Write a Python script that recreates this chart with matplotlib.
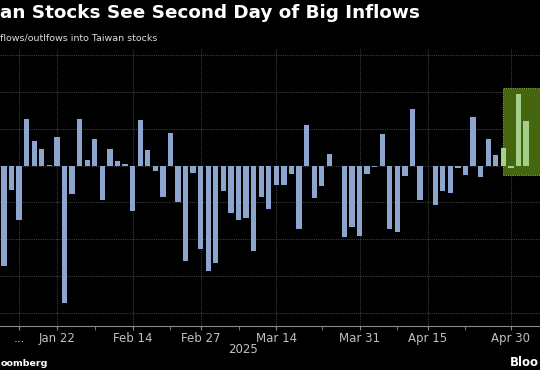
import numpy as np
import matplotlib
matplotlib.use("Agg")
import matplotlib.pyplot as plt
from matplotlib.patches import Rectangle

# daily net flows, one bar per trading day (Jan 13 .. early May 2025)
flows = [
    -2.73, -0.65, -1.48, 1.27, 0.67, 0.46, 0.03, 0.79, -3.73, -0.76,
    1.28, 0.15, 0.72, -0.93, 0.46, 0.14, 0.06, -1.24, 1.25, 0.42,
    -0.14, -0.84, 0.90, -0.99, -2.58, -0.19, -2.27, -2.86, -2.64, -0.70,
    -1.30, -1.47, -1.43, -2.32, -0.86, -1.17, -0.52, -0.52, -0.22, -1.72,
    1.11, -0.87, -0.56, 0.33, -0.02, -1.94, -1.68, -1.90, -0.23, -0.03,
    0.85, -1.72, -1.79, -0.28, 1.55, -0.94, -0.02, -1.06, -0.68, -0.75,
    -0.07, -0.26, 1.33, -0.31, 0.73, 0.30, 0.48, -0.06, 1.95, 1.23,
]
highlight_from = 66  # last days shown in the green box

tick_pos = [2, 7, 17, 26, 36, 47, 56, 67]
tick_labels = ["...", "Jan 22", "Feb 14", "Feb 27", "Mar 14", "Mar 31", "Apr 15", "Apr 30"]
minor_pos = [12, 22, 31, 42, 52, 61]

# the reference is a crop, so only the visible part of these texts is shown
title = "an Stocks See Second Day of Big Inflows"
subtitle = "flows/outlfows into Taiwan stocks"
source = "oomberg"
logo = "Bloo"

BG = "black"
BAR = "#8ca5cc"
BAR_HI = "#a3d08a"
GRID = "#3c3c3c"
TXT = "#c0c0c0"

x = np.arange(len(flows))
colors = [BAR_HI if i >= highlight_from else BAR for i in x]

fig = plt.figure(figsize=(5.4, 3.7), dpi=100, facecolor=BG)
ax = fig.add_axes([0, 0.119, 1, 0.751], facecolor=BG)

ax.add_patch(Rectangle((highlight_from - 0.05, -0.245), 6, 2.365,
                       facecolor="#45650f", edgecolor="#7fae2e",
                       linestyle=(0, (1, 1)), linewidth=0.8, zorder=1))
ax.bar(x, flows, width=0.7, color=colors, zorder=2)

ax.set_xlim(-0.53, 70.85)
ax.set_ylim(-4.36, 3.2)

ax.set_yticks(range(-4, 4))
ax.set_xticks(tick_pos)
ax.set_xticklabels(tick_labels)
ax.set_xticks(minor_pos, minor=True)
ax.grid(True, which="major", color=GRID, linestyle=(0, (1, 1)), linewidth=0.8, zorder=0)
ax.set_axisbelow(True)

for s in ["top", "left", "right"]:
    ax.spines[s].set_visible(False)
ax.spines["bottom"].set_color("#8a8a8a")
ax.tick_params(axis="y", left=False, labelleft=False)
ax.tick_params(axis="x", which="both", colors="#8a8a8a", labelcolor=TXT,
               labelsize=8.5, length=3, pad=1.5)

fig.text(0.5 / 540, 1 - 13 / 370, title, ha="left", va="center",
         fontsize=13.2, weight="bold", color="white")
fig.text(0.5 / 540, 1 - 38 / 370, subtitle, ha="left", va="center",
         fontsize=6.8, color="#dddddd")
fig.text(243 / 540, 1 - 349.5 / 370, "2025", ha="center", va="center",
         fontsize=8.5, color=TXT)
fig.text(0.5 / 540, 1 - 364 / 370, source, ha="left", va="center",
         fontsize=6.8, weight="bold", color="white")
fig.text(539 / 540, 1 - 362 / 370, logo, ha="right", va="center",
         fontsize=8.4, weight="bold", color="white")

fig.savefig("out.png", dpi=100, facecolor=BG)
